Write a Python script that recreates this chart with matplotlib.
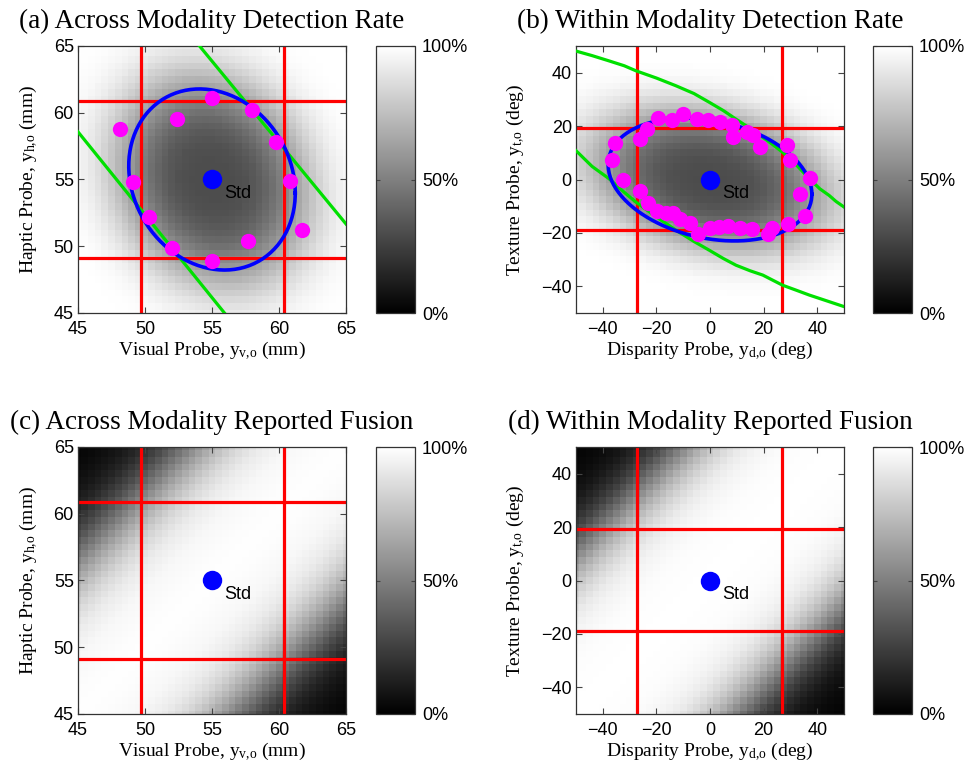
import numpy as np
import matplotlib
matplotlib.use('Agg')
import matplotlib.pyplot as plt

plt.rcParams['font.family'] = ['Liberation Sans', 'DejaVu Sans']
plt.rcParams['mathtext.fontset'] = 'custom'
plt.rcParams['mathtext.rm'] = 'Liberation Serif'
plt.rcParams['mathtext.it'] = 'Liberation Serif:italic'

# ---- across modality (mm) ----
std_a = [55.0, 55.0]
lim_a = [45, 65]
ticks_a = [45, 50, 55, 60, 65]
red_a_v = [49.7, 60.4]
red_a_h = [60.9, 49.1]
green_a_x = [[54.07, 65.0], [45.0, 55.93]]
green_a_y = [[65.0, 51.67], [58.57, 45.0]]
probe_a_x = [55.0, 57.97, 52.38, 48.16, 59.76, 49.12, 60.83, 50.29, 61.70, 57.65, 52.03, 55.0]
probe_a_y = [61.14, 60.24, 59.55, 58.82, 57.83, 54.84, 54.91, 52.22, 51.18, 50.36, 49.86, 48.86]
ell_a_cov = [[38.6, -6.3], [-6.3, 46.0]]

# ---- within modality (deg) ----
std_b = [0.0, 0.0]
lim_b = [-50, 50]
ticks_b = [-40, -20, 0, 20, 40]
red_b_v = [-27.2, 26.8]
red_b_h = [19.4, -18.9]
green_b_x1 = [-50, -44, -37.6, -32, -27.6, -20, -12.7, -6, -0.25, 5, 9.7, 15, 19.7, 23, 27.1, 32, 37.1, 41, 44.5, 47, 50]
green_b_y1 = [48.1, 46.4, 44.4, 42.6, 40.7, 38.0, 35.1, 32.2, 28.9, 25.8, 22.6, 19.1, 15.8, 13.4, 10.2, 5.7, 0.25, -3.5, -6.0, -8.2, -10.3]
green_b_x2 = [-50, -44, -37.6, -32, -27.6, -20, -12.7, -6, -0.25, 5, 9.7, 15, 19.7, 23, 27.1, 32, 37.1, 44, 50]
green_b_y2 = [10.8, 4.9, 0.25, -4.8, -8.5, -14.0, -19.0, -23.2, -26.5, -29.6, -32.1, -34.2, -35.8, -37.5, -39.6, -41.4, -43.3, -45.6, -47.6]
probe_b_x = [-36.7, -35.4, -26.1, -23.6, -19.3, -14.3, -10.0, -5.0, -0.6, 3.7, 8.1, 8.7,
             13.7, 16.2, 18.7, 28.6, 29.9, 37.3,
             -32.3, -26.1, -23.0, -19.9, -16.5, -13.7, -11.2, -7.5, -4.4, 0.0, 3.5, 6.8,
             11.2, 15.6, 21.8, 23.0, 29.2, 35.4, 33.6]
probe_b_y = [7.2, 13.7, 15.3, 19.0, 23.1, 22.1, 24.6, 22.8, 22.1, 21.5, 20.3, 15.9,
             17.8, 16.5, 12.2, 12.8, 7.2, 0.5,
             0.0, -4.4, -8.7, -11.8, -12.5, -12.4, -14.9, -16.2, -20.5, -18.0, -17.8, -17.4,
             -18.0, -18.7, -20.5, -18.0, -16.8, -13.7, -5.6]
ell_b_cov = [[1444.0, -210.0], [-210.0, 529.0]]

# model parameters for the shaded maps
det_floor = 0.30      # detection rate at the standard
det_rate = 0.61
det_power = 1.6
fuse_mid_a = 11.6     # conflict giving 50% fusion (mm)
fuse_slope_a = 2.2
fuse_mid_b = 60.0     # (deg)
fuse_slope_b = 9.5
n_grid = 41

titles = ['(a) Across Modality Detection Rate', '(b) Within Modality Detection Rate',
          '(c) Across Modality Reported Fusion', '(d) Within Modality Reported Fusion']
xlabels = ['Visual Probe, y$_{\\mathrm{v{,}o}}$ (mm)', 'Disparity Probe, y$_{\\mathrm{d{,}o}}$ (deg)']
ylabels = ['Haptic Probe, y$_{\\mathrm{h{,}o}}$ (mm)', 'Texture Probe, y$_{\\mathrm{t{,}o}}$ (deg)']


def grid(lim):
    g = np.linspace(lim[0], lim[1], n_grid)
    return np.meshgrid(g, g)


def detect_map(lim, center, cov):
    X, Y = grid(lim)
    inv = np.linalg.inv(np.array(cov))
    dx, dy = X - center[0], Y - center[1]
    q = inv[0, 0] * dx**2 + 2 * inv[0, 1] * dx * dy + inv[1, 1] * dy**2
    return 1 - (1 - det_floor) * np.exp(-det_rate * q**det_power)


def fuse_map(lim, mid, slope):
    X, Y = grid(lim)
    return 1 / (1 + np.exp((np.abs(X - Y) - mid) / slope))


def ellipse(center, cov):
    t = np.linspace(0, 2 * np.pi, 200)
    L = np.linalg.cholesky(np.array(cov))
    pts = L @ np.vstack([np.cos(t), np.sin(t)])
    return pts[0] + center[0], pts[1] + center[1]


fig = plt.figure(figsize=(9.69, 7.66), dpi=100)
W, H = 969, 766
boxes = [(78, 46), (576, 46), (78, 447), (576, 447)]
cbar_x = [376, 873]

maps = [detect_map(lim_a, std_a, ell_a_cov), detect_map(lim_b, std_b, ell_b_cov),
        fuse_map(lim_a, fuse_mid_a, fuse_slope_a), fuse_map(lim_b, fuse_mid_b, fuse_slope_b)]

for i in range(4):
    col = i % 2
    left, top = boxes[i]
    ax = fig.add_axes([left / W, 1 - (top + 267) / H, 268 / W, 267 / H])
    cax = fig.add_axes([cbar_x[col] / W, 1 - (top + 267) / H, 39 / W, 267 / H])

    lim = lim_a if col == 0 else lim_b
    std = std_a if col == 0 else std_b
    ticks = ticks_a if col == 0 else ticks_b
    half = (lim[1] - lim[0]) / (n_grid - 1) / 2
    im = ax.imshow(maps[i], extent=[lim[0] - half, lim[1] + half, lim[0] - half, lim[1] + half],
                   origin='lower', cmap='gray', vmin=0, vmax=1, interpolation='nearest',
                   aspect='auto', zorder=0)

    # red probe limits
    for v in (red_a_v if col == 0 else red_b_v):
        ax.axvline(v, color='#ff0000', lw=2.3, zorder=2)
    for h in (red_a_h if col == 0 else red_b_h):
        ax.axhline(h, color='#ff0000', lw=2.3, zorder=2)

    if i == 0:
        for gx, gy in zip(green_a_x, green_a_y):
            ax.plot(gx, gy, color='#00e000', lw=2.3, zorder=3)
        ex, ey = ellipse(std_a, ell_a_cov)
        ax.plot(ex, ey, color='#0000ff', lw=2.6, zorder=4)
        ax.plot(probe_a_x, probe_a_y, 'o', color='#ff00ff', ms=11, mec='none', zorder=5)
    elif i == 1:
        ax.plot(green_b_x1, green_b_y1, color='#00e000', lw=2.3, zorder=3)
        ax.plot(green_b_x2, green_b_y2, color='#00e000', lw=2.3, zorder=3)
        ex, ey = ellipse(std_b, ell_b_cov)
        ax.plot(ex, ey, color='#0000ff', lw=2.6, zorder=4)
        ax.plot(probe_b_x, probe_b_y, 'o', color='#ff00ff', ms=11, mec='none', zorder=5)

    ax.plot(std[0], std[1], 'o', color='#0000ff', ms=14, mec='none', zorder=6)
    ax.annotate('Std', xy=(std[0], std[1]), xytext=(9, -10), textcoords='offset points',
                ha='left', va='center', fontsize=13, zorder=7)

    ax.set_xlim(lim)
    ax.set_ylim(lim)
    ax.set_xticks(ticks)
    ax.set_yticks(ticks)
    ax.tick_params(direction='in', top=True, right=True, length=4, width=0.8,
                   labelsize=13, color='#444444')
    ax.tick_params(axis='x', pad=6)
    ax.tick_params(axis='y', pad=3)
    for s in ax.spines.values():
        s.set_color('#333333')
        s.set_linewidth(0.9)
    ax.set_title(titles[i], family='Liberation Serif', fontsize=19.5, pad=13)
    ax.set_xlabel(xlabels[col], family='Liberation Serif', fontsize=14, labelpad=1)
    ax.set_ylabel(ylabels[col], family='Liberation Serif', fontsize=14, labelpad=10)

    cb = fig.colorbar(im, cax=cax, ticks=[0, 0.5, 1])
    cb.set_ticklabels(['0%', '50%', '100%'])
    cax.tick_params(direction='in', left=True, right=True, length=3, labelsize=13,
                    color='#444444', pad=5)
    cb.outline.set_edgecolor('#333333')
    cb.outline.set_linewidth(0.9)

fig.savefig('out.png', dpi=100)
